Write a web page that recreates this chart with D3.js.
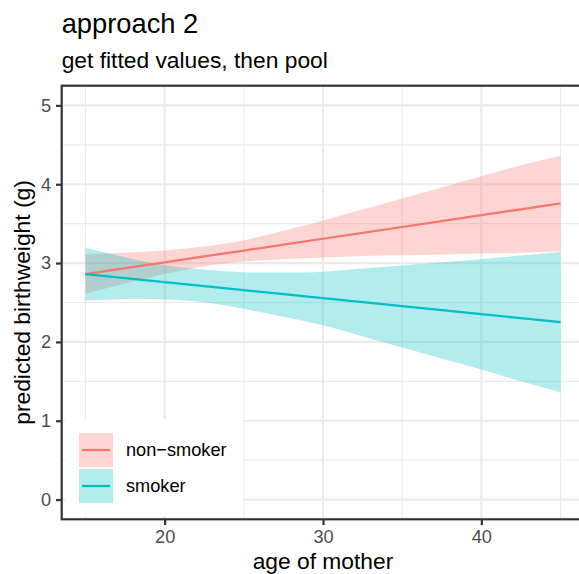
<!DOCTYPE html>
<html>
<head>
<meta charset="utf-8">
<script src="https://cdn.jsdelivr.net/npm/d3@7"></script>
<style>
  body { margin: 0; background: #fff; }
  svg { display: block; font-family: "Liberation Sans", Arial, sans-serif; }
</style>
</head>
<body>
<div id="chart"></div>
<script>
// valores
const ages = [15, 17.5, 20, 22.5, 25, 27.5, 30, 32.5, 35, 37.5, 40, 42.5, 45];
const nonSmokerFit   = [2.86, 2.935, 3.01, 3.084, 3.159, 3.234, 3.309, 3.383, 3.458, 3.533, 3.608, 3.682, 3.757];
const nonSmokerLower = [2.61, 2.74, 2.86, 2.96, 3.02, 3.05, 3.07, 3.09, 3.10, 3.11, 3.12, 3.13, 3.15];
const nonSmokerUpper = [3.11, 3.13, 3.16, 3.21, 3.29, 3.41, 3.54, 3.68, 3.82, 3.96, 4.10, 4.24, 4.36];
const smokerFit   = [2.86, 2.809, 2.758, 2.708, 2.657, 2.606, 2.555, 2.505, 2.454, 2.403, 2.352, 2.302, 2.251];
const smokerLower = [2.525, 2.545, 2.54, 2.50, 2.42, 2.32, 2.21, 2.07, 1.93, 1.79, 1.65, 1.50, 1.36];
const smokerUpper = [3.195, 3.075, 2.975, 2.915, 2.885, 2.88, 2.89, 2.93, 2.97, 3.01, 3.05, 3.095, 3.14];

const groups = ['non\u2212smoker', 'smoker'];
const colors = ['#F8766D', '#00BFC4'];
const xTicks = [20, 30, 40];
const xMinor = [15, 25, 35, 45];
const yTicks = [0, 1, 2, 3, 4, 5];
const yMinor = [0.5, 1.5, 2.5, 3.5, 4.5];

const series = [
  { name: groups[0], fit: nonSmokerFit, lower: nonSmokerLower, upper: nonSmokerUpper, color: colors[0] },
  { name: groups[1], fit: smokerFit, lower: smokerLower, upper: smokerUpper, color: colors[1] }
];

const W = 579, H = 574;
const panel = { left: 61.7, right: 584.3, top: 85.7, bottom: 519.3 };

const svg = d3.select('#chart').append('svg')
  .attr('width', W)
  .attr('height', H);

const x = d3.scaleLinear().domain([13.5, 46.5]).range([panel.left, panel.right]);
const y = d3.scaleLinear().domain([-0.25, 5.25]).range([panel.bottom, panel.top]);

// grade
const grid = svg.append('g');
grid.selectAll('line.xminor').data(xMinor).enter().append('line')
  .attr('x1', d => x(d)).attr('x2', d => x(d))
  .attr('y1', panel.top).attr('y2', panel.bottom)
  .attr('stroke', '#EBEBEB').attr('stroke-width', 1.1);
grid.selectAll('line.yminor').data(yMinor).enter().append('line')
  .attr('y1', d => y(d)).attr('y2', d => y(d))
  .attr('x1', panel.left).attr('x2', panel.right)
  .attr('stroke', '#EBEBEB').attr('stroke-width', 1.1);
grid.selectAll('line.xmajor').data(xTicks).enter().append('line')
  .attr('x1', d => x(d)).attr('x2', d => x(d))
  .attr('y1', panel.top).attr('y2', panel.bottom)
  .attr('stroke', '#EBEBEB').attr('stroke-width', 2.2);
grid.selectAll('line.ymajor').data(yTicks).enter().append('line')
  .attr('y1', d => y(d)).attr('y2', d => y(d))
  .attr('x1', panel.left).attr('x2', panel.right)
  .attr('stroke', '#EBEBEB').attr('stroke-width', 2.2);

// faixas de confiança
const area = d3.area()
  .x((d, i) => x(ages[i]))
  .y0(d => y(d[0]))
  .y1(d => y(d[1]))
  .curve(d3.curveNatural);

svg.selectAll('path.ribbon').data(series).enter().append('path')
  .attr('class', 'ribbon')
  .attr('d', s => area(s.lower.map((v, i) => [v, s.upper[i]])))
  .attr('fill', s => s.color)
  .attr('fill-opacity', 0.3);

// linhas ajustadas
const line = d3.line()
  .x((d, i) => x(ages[i]))
  .y(d => y(d));

svg.selectAll('path.fit').data(series).enter().append('path')
  .attr('class', 'fit')
  .attr('d', s => line(s.fit))
  .attr('fill', 'none')
  .attr('stroke', s => s.color)
  .attr('stroke-width', 2.2);

// legenda
const legend = svg.append('g');
legend.append('rect')
  .attr('x', 65).attr('y', 419).attr('width', 178).attr('height', 97)
  .attr('fill', '#fff');
const keys = legend.selectAll('g.key').data(series).enter().append('g')
  .attr('transform', (d, i) => `translate(79, ${433 + i * 36})`);
keys.append('rect')
  .attr('width', 34).attr('height', 34)
  .attr('fill', d => d.color).attr('fill-opacity', 0.3);
keys.append('line')
  .attr('x1', 3).attr('x2', 31).attr('y1', 17).attr('y2', 17)
  .attr('stroke', d => d.color).attr('stroke-width', 2.2);
keys.append('text')
  .attr('x', 47).attr('y', 17).attr('dy', '0.35em')
  .attr('font-size', 18.2).attr('fill', '#000')
  .text(d => d.name);

// borda do painel
svg.append('rect')
  .attr('x', panel.left).attr('y', panel.top)
  .attr('width', panel.right - panel.left).attr('height', panel.bottom - panel.top)
  .attr('fill', 'none').attr('stroke', '#333333').attr('stroke-width', 2.2);

// eixos
const xAxis = svg.append('g')
  .attr('transform', `translate(0, ${panel.bottom})`)
  .call(d3.axisBottom(x).tickValues(xTicks).tickFormat(d3.format('d')).tickSize(5.7).tickPadding(5));
const yAxis = svg.append('g')
  .attr('transform', `translate(${panel.left}, 0)`)
  .call(d3.axisLeft(y).tickValues(yTicks).tickFormat(d3.format('d')).tickSize(5.7).tickPadding(5));
[xAxis, yAxis].forEach(a => {
  a.select('.domain').remove();
  a.selectAll('line').attr('stroke', '#333333').attr('stroke-width', 2.2);
  a.selectAll('text').attr('fill', '#4D4D4D').attr('font-size', 18.2)
    .attr('font-family', '"Liberation Sans", Arial, sans-serif');
});

// títulos
svg.append('text')
  .attr('x', panel.left).attr('y', 33)
  .attr('font-size', 27.3).attr('fill', '#000')
  .text('approach 2');
svg.append('text')
  .attr('x', panel.left).attr('y', 68)
  .attr('font-size', 22.8).attr('fill', '#000')
  .text('get fitted values, then pool');
svg.append('text')
  .attr('x', (panel.left + panel.right) / 2).attr('y', 569)
  .attr('text-anchor', 'middle')
  .attr('font-size', 22.8).attr('fill', '#000')
  .text('age of mother');
svg.append('text')
  .attr('transform', `translate(30, ${(panel.top + panel.bottom) / 2}) rotate(-90)`)
  .attr('text-anchor', 'middle')
  .attr('font-size', 22.8).attr('fill', '#000')
  .text('predicted birthweight (g)');
</script>
</body>
</html>
